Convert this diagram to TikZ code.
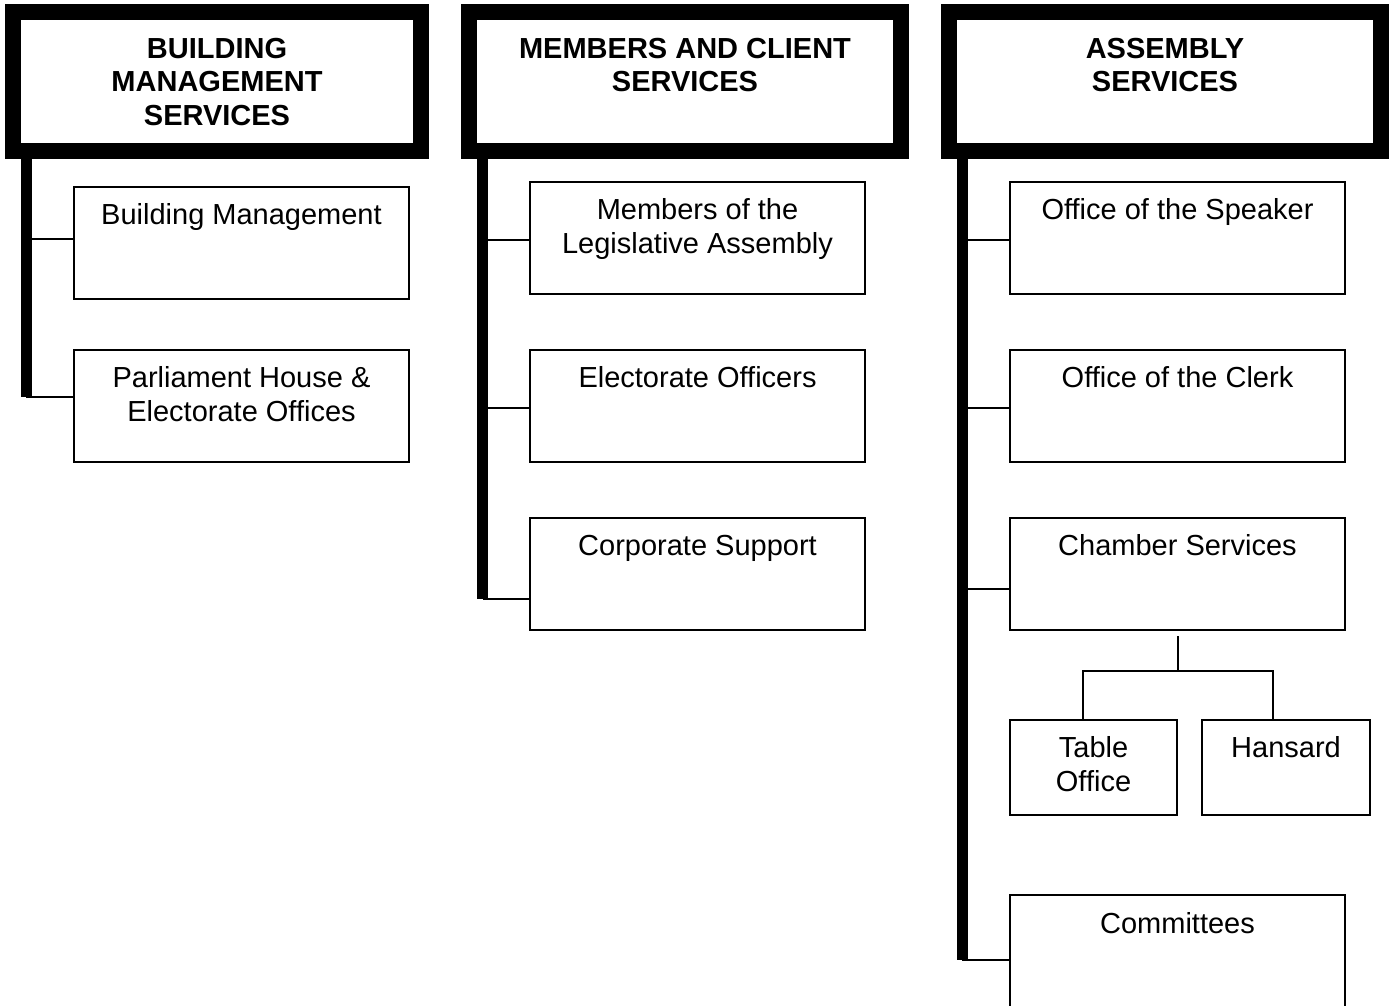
\documentclass[tikz,border=0pt]{standalone}
\usepackage{fontspec}
\setmainfont{Liberation Sans}
\usetikzlibrary{positioning,calc}

\begin{document}
\begin{tikzpicture}[x=1pt, y=-1pt,
    every node/.style={font=\fontsize{29}{33.5}\selectfont},
    head/.style={draw, line width=16pt, minimum width=408pt, minimum height=139pt},
    unit/.style={draw, line width=2pt, minimum width=335.5pt, minimum height=112.5pt},
    subunit/.style={draw, line width=2pt, minimum width=167.5pt, minimum height=95.5pt},
    caption/.style={anchor=north, align=center, inner sep=0pt},
    spine/.style={line width=11pt},
    link/.style={line width=2pt}]

        \fill[white] (0,0) rectangle (1395,1006);
        \clip (0,0) rectangle (1395,1006);

        % Division headers
        \node[head] (h1) at (217,81.5) {};
        \node[head, minimum width=432pt] (h2) at (685,81.5) {};
        \node[head, minimum width=432pt] (h3) at (1165,81.5) {};

        \node[caption, font=\fontsize{29}{33.5}\selectfont\bfseries] (hc1) at ([yshift=-34pt]h1.north) {BUILDING\\MANAGEMENT\\SERVICES};
        \node[caption, font=\fontsize{29}{33.5}\selectfont\bfseries] (hc2) at ([yshift=-34pt]h2.north) {MEMBERS AND CLIENT\\SERVICES};
        \node[caption, font=\fontsize{29}{33.5}\selectfont\bfseries] (hc3) at ([yshift=-34pt]h3.north) {ASSEMBLY\\SERVICES};

        % Building management units
        \node[unit] (b11) at (241.5,243) {};
        \node[unit] (b12) at (241.5,406) {};
        \node[caption] (c11) at ([yshift=-18pt]b11.north) {Building Management};
        \node[caption] (c12) at ([yshift=-18pt]b12.north) {Parliament House \&\\Electorate Offices};

        % Members and client units
        \node[unit] (b21) at (697.5,238) {};
        \node[unit] (b22) at (697.5,406) {};
        \node[unit] (b23) at (697.5,574) {};
        \node[caption] (c21) at ([yshift=-18pt]b21.north) {Members of the\\Legislative Assembly};
        \node[caption] (c22) at ([yshift=-18pt]b22.north) {Electorate Officers};
        \node[caption] (c23) at ([yshift=-18pt]b23.north) {Corporate Support};

        % Assembly units
        \node[unit] (b31) at (1177.5,238) {};
        \node[unit] (b32) at (1177.5,406) {};
        \node[unit] (b33) at (1177.5,574) {};
        \node[unit] (b34) at (1177.5,951.5) {};
        \node[caption] (c31) at ([yshift=-18pt]b31.north) {Office of the Speaker};
        \node[caption] (c32) at ([yshift=-18pt]b32.north) {Office of the Clerk};
        \node[caption] (c33) at ([yshift=-18pt]b33.north) {Chamber Services};
        \node[caption] (c34) at ([yshift=-18pt]b34.north) {Committees};

        % Chamber services sections
        \node[subunit] (tab) at (1093.5,767.5) {};
        \node[subunit] (han) at (1286,767.5) {};
        \node[caption] (ctab) at ([yshift=-18pt]tab.north) {Table\\Office};
        \node[caption] (chan) at ([yshift=-18pt]han.north) {Hansard};

        % Spine tops and connector points
        \coordinate (t1) at ($(h1.south west)+(21,0)$);
        \coordinate (t2) at ($(h2.south west)+(21.5,0)$);
        \coordinate (t3) at ($(h3.south west)+(21,0)$);
        \coordinate (k11) at ([yshift=4pt]b11.west);
        \coordinate (k12) at ([yshift=9pt]b12.west);
        \coordinate (k21) at ([yshift=-2pt]b21.west);
        \coordinate (k22) at ([yshift=-2pt]b22.west);
        \coordinate (k23) at ([yshift=-25pt]b23.west);
        \coordinate (k31) at ([yshift=-2pt]b31.west);
        \coordinate (k32) at ([yshift=-2pt]b32.west);
        \coordinate (k33) at ([yshift=-15pt]b33.west);
        \coordinate (k34) at ([yshift=-8pt]b34.west);

        % Connectors
        \foreach \k in {k11,k12} \draw[link] (t1 |- \k) -- (\k);
        \foreach \k in {k21,k22,k23} \draw[link] (t2 |- \k) -- (\k);
        \foreach \k in {k31,k32,k33,k34} \draw[link] (t3 |- \k) -- (\k);
        \draw[spine] (t1) -- (t1 |- k12);
        \draw[spine] (t2) -- (t2 |- k23);
        \draw[spine] (t3) -- (t3 |- k34);

        \coordinate (fork) at ($(b33.south)+(0,40)$);
        \draw[link] ([yshift=-5pt]b33.south) -- (fork);
        \draw[link] ([xshift=-11pt]tab.north) |- (fork) -| ([xshift=-13pt]han.north);
    \end{tikzpicture}
\end{document}
